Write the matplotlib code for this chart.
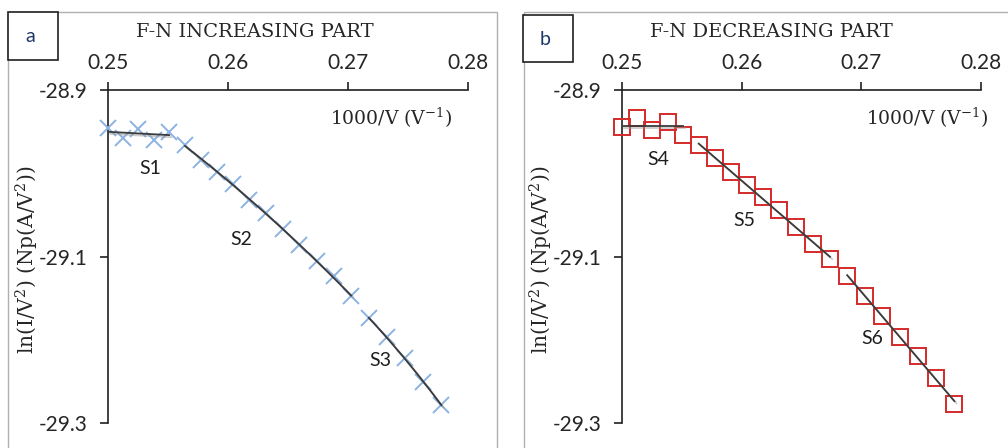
import numpy as np
import matplotlib
matplotlib.use('Agg')
import matplotlib.pyplot as plt
import matplotlib.patheffects as pe
from matplotlib.patches import Rectangle

# ---- data ----
inv_v = [0.250000, 0.251256, 0.252525, 0.253807, 0.255102, 0.256410, 0.257732,
         0.259067, 0.260417, 0.261780, 0.263158, 0.264550, 0.265957, 0.267380,
         0.268817, 0.270270, 0.271739, 0.273224, 0.274725, 0.276243, 0.277778]
ln_inc = [-28.946, -28.958, -28.947, -28.960, -28.950, -28.966, -28.984,
          -28.998, -29.013, -29.032, -29.048, -29.067, -29.086, -29.106,
          -29.124, -29.148, -29.174, -29.197, -29.222, -29.251, -29.278]
ln_dec = [-28.944, -28.934, -28.948, -28.938, -28.954, -28.966, -28.982,
          -28.998, -29.014, -29.028, -29.044, -29.064, -29.085, -29.103,
          -29.124, -29.147, -29.171, -29.197, -29.220, -29.246, -29.277]

# segments: (start index, end index exclusive, fit degree)
seg_inc = [(0, 5, 1), (5, 16, 2), (16, 21, 2)]
seg_dec = [(0, 5, 0), (5, 14, 1), (14, 21, 1)]
lab_inc = ['S1', 'S2', 'S3']
lab_dec = ['S4', 'S5', 'S6']
lab_inc_x = [0.2526, 0.2602, 0.2718]
lab_inc_y = [-28.994, -29.079, -29.225]
lab_dec_x = [0.2521, 0.2593, 0.2700]
lab_dec_y = [-28.984, -29.057, -29.199]

titles = ['F-N INCREASING PART', 'F-N DECREASING PART']
panel_letters = ['a', 'b']
xticks = [0.25, 0.26, 0.27, 0.28]
xtick_labels = ['0.25', '0.26', '0.27', '0.28']
yticks = [-29.3, -29.1, -28.9]
ytick_labels = ['-29.3', '-29.1', '-28.9']

plt.rcParams['mathtext.fontset'] = 'custom'
plt.rcParams['mathtext.rm'] = 'DejaVu Serif'
plt.rcParams['mathtext.it'] = 'DejaVu Serif:italic'

W, H = 1008, 448
fig = plt.figure(figsize=(W / 100, H / 100), dpi=100)

def fx(px):
    return px / W

def fy(py):
    return 1 - py / H

SERIF = 'DejaVu Serif'
SANS = 'Lato'

panels = [
    dict(left=108, right=468, ydata=ln_inc, segs=seg_inc, labs=lab_inc,
         lx=lab_inc_x, ly=lab_inc_y, marker='x', mcolor='#8DB3E2', mface='#8DB3E2',
         title_x=255, frame=(8, 497), box=(8, 12, 58, 60), ylab_x=27, xlab_ax=0.955),
    dict(left=622, right=981, ydata=ln_dec, segs=seg_dec, labs=lab_dec,
         lx=lab_dec_x, ly=lab_dec_y, marker='s', mcolor='#D42A2A', mface='none',
         title_x=771, frame=(524, 1040), box=(523, 15, 573, 62), ylab_x=541, xlab_ax=1.02),
]

top_px, bot_px = 90, 423
for i, p in enumerate(panels):
    # panel frame
    fl, fr = p['frame']
    fig.patches.append(Rectangle((fx(fl), -0.2), fx(fr) - fx(fl), fy(12) + 0.2,
                                 transform=fig.transFigure, fill=False,
                                 edgecolor='#b0b0b0', linewidth=1.0, zorder=0))
    # letter box
    bl, bt, br, bb = p['box']
    fig.patches.append(Rectangle((fx(bl), fy(bb)), fx(br) - fx(bl), fy(bt) - fy(bb),
                                 transform=fig.transFigure, facecolor='white',
                                 edgecolor='#202020', linewidth=1.2, zorder=1))
    fig.text(fx((bl + br) / 2 - 3), fy((bt + bb) / 2 + 1), panel_letters[i],
             ha='center', va='center', fontsize=14, family=SANS, color='#1f3864')

    ax = fig.add_axes([fx(p['left']), fy(bot_px), fx(p['right']) - fx(p['left']),
                       fy(top_px) - fy(bot_px)])
    ax.set_xlim(0.25, 0.28)
    ax.set_ylim(-29.3, -28.9)
    ax.patch.set_alpha(0)
    for s in ['right', 'bottom']:
        ax.spines[s].set_visible(False)
    for s in ['left', 'top']:
        ax.spines[s].set_linewidth(1.2)
        ax.spines[s].set_color('#202020')
    ax.xaxis.tick_top()
    ax.set_xticks(xticks)
    ax.set_xticklabels(xtick_labels)
    ax.set_yticks(yticks)
    ax.set_yticklabels(ytick_labels)
    ax.tick_params(axis='x', direction='out', length=6, width=1.2, color='#202020',
                   labelsize=15, pad=6)
    ax.tick_params(axis='y', direction='out', length=6, width=1.2, color='#202020',
                   labelsize=15, pad=9)
    for t in ax.get_xticklabels() + ax.get_yticklabels():
        t.set_family(SANS)
        t.set_color('#262626')

    # markers
    ax.plot(inv_v, p['ydata'], linestyle='none', marker=p['marker'], markersize=12,
            markeredgewidth=1.4, markeredgecolor=p['mcolor'], markerfacecolor=p['mface'],
            clip_on=False, zorder=3)

    # fitted segments
    xv = np.array(inv_v)
    yv = np.array(p['ydata'])
    for (a, b, deg), lab, tx, ty in zip(p['segs'], p['labs'], p['lx'], p['ly']):
        coef = np.polyfit(xv[a:b], yv[a:b], deg)
        xs = np.linspace(xv[a], xv[b - 1], 60)
        ax.plot(xs, np.polyval(coef, xs), color='#3a3a3a', linewidth=1.3, zorder=4,
                path_effects=[pe.SimpleLineShadow(offset=(1.5, -1.5), shadow_color='#999999', alpha=0.5),
                              pe.Normal()])
        ax.text(tx, ty, lab, ha='left', va='center', fontsize=14, family=SANS,
                color='#1e1e1e')

    # axis title inside
    ax.text(p['xlab_ax'], 0.916, r'1000/V (V$^{\mathregular{-1}}$)', transform=ax.transAxes,
            ha='right', va='center', fontsize=13.5, family=SERIF, color='#262626')
    # chart title
    fig.text(fx(p['title_x']), fy(32), titles[i], ha='center', va='center',
             fontsize=14, family=SERIF, color='#262626')
    # y label
    fig.text(fx(p['ylab_x']), fy(260), r'ln(I/V$^{\mathregular{2}}$) (Np(A/V$^{\mathregular{2}}$))',
             rotation=90, ha='center', va='center', fontsize=14.5, family=SERIF, color='#262626')

fig.savefig('out.png', dpi=100, facecolor='white')
